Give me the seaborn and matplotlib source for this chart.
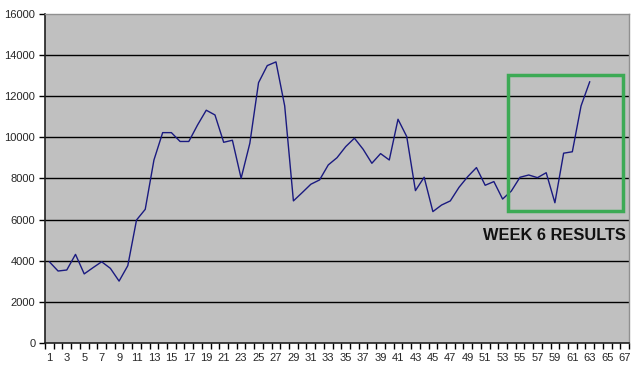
import numpy as np
import pandas as pd
import matplotlib
matplotlib.use('Agg')
import matplotlib.pyplot as plt
from matplotlib.patches import Rectangle
import seaborn as sns

# weekly values (weeks 1..63 of a 67-week axis)
weeks = list(range(1, 64))
values = [3950, 3500, 3550, 4310, 3360, 3660, 3950, 3630, 3010, 3760,
          5980, 6500, 8900, 10230, 10230, 9800, 9800, 10600, 11320, 11090,
          9760, 9860, 8010, 9710, 12660, 13490, 13670, 11530, 6910, 7310,
          7720, 7930, 8660, 9010, 9550, 9960, 9420, 8740, 9210, 8900,
          10880, 10040, 7410, 8060, 6390, 6710, 6910, 7570, 8090, 8530,
          7670, 7850, 7000, 7390, 8060, 8170, 8040, 8280, 6820, 9230,
          9300, 11530, 12710]
n_categories = 67
y_ticks = [0, 2000, 4000, 6000, 8000, 10000, 12000, 14000, 16000]

# highlighted region (week range and value range)
box_weeks = (53.6, 66.85)
box_values = (6405, 13020)
box_label = 'WEEK 6 RESULTS'

df = pd.DataFrame({'week': weeks, 'value': values})

sns.set_style('white')
plt.rcParams['font.family'] = ['Liberation Sans', 'DejaVu Sans']

fig = plt.figure(figsize=(6.4, 3.71), dpi=100)
ax = fig.add_axes([0.0703, 0.0755, 0.9125, 0.8868])
ax.set_facecolor('#c0c0c0')

sns.lineplot(x='week', y='value', data=df, color='#1a1a80', linewidth=1.0, ax=ax)

ax.set_xlim(0.5, n_categories + 0.5)
ax.set_ylim(0, 16000)
ax.set_yticks(y_ticks)
ax.set_yticklabels([str(v) for v in y_ticks], fontsize=8)
for v in y_ticks[1:-1]:
    ax.axhline(v, color='black', linewidth=1.0, zorder=1)

odd = list(range(1, n_categories + 1, 2))
ax.set_xticks(odd)
ax.set_xticklabels([str(v) for v in odd], fontsize=8)
ax.set_xticks(np.arange(0.5, n_categories + 1, 1), minor=True)
ax.tick_params(axis='x', which='major', length=0, pad=7)
ax.tick_params(axis='x', which='minor', length=4, width=1, color='black', direction='out', bottom=True)
ax.tick_params(axis='y', which='major', length=4, width=1, color='black', direction='out', left=True, pad=3)

ax.set_xlabel('')
ax.set_ylabel('')
for side in ['top', 'right']:
    ax.spines[side].set_color('#909090')
    ax.spines[side].set_linewidth(1)
for side in ['left', 'bottom']:
    ax.spines[side].set_color('#202020')
    ax.spines[side].set_linewidth(1.2)

ax.add_patch(Rectangle((box_weeks[0], box_values[0]), box_weeks[1] - box_weeks[0],
                       box_values[1] - box_values[0], fill=False,
                       edgecolor='#3caa55', linewidth=2.5, zorder=4))
ax.text(58.9, 5250, box_label, ha='center', va='center', fontsize=11.8,
        fontweight='bold', color='#111111')

fig.savefig('out.png', dpi=100, facecolor='white')
